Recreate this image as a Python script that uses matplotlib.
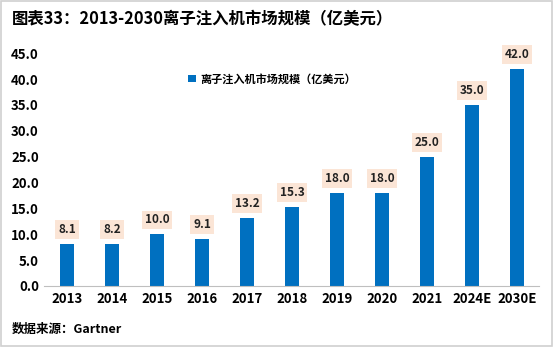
import matplotlib
matplotlib.use("Agg")
import matplotlib.pyplot as plt
from matplotlib.patches import Rectangle

plt.rcParams['font.family'] = ['Noto Sans CJK SC', 'DejaVu Sans']

years = ['2013', '2014', '2015', '2016', '2017', '2018', '2019', '2020', '2021', '2024E', '2030E']
market = [8.1, 8.2, 10.0, 9.1, 13.2, 15.3, 18.0, 18.0, 25.0, 35.0, 42.0]
yticks = [0, 5, 10, 15, 20, 25, 30, 35, 40, 45]

bar_color = '#0070C0'

fig = plt.figure(figsize=(5.54, 3.47), dpi=100)
ax = fig.add_axes([0.0803, 0.1758, 0.8935, 0.671])

x = list(range(len(years)))
ax.bar(x, market, width=0.33, color=bar_color, label='离子注入机市场规模（亿美元）', zorder=2)

for xi, v in zip(x, market):
    ax.text(xi, v + 1.5, f'{v:.1f}', ha='center', va='bottom', fontsize=8.5, fontweight='bold',
            color='#222222',
            bbox=dict(boxstyle='square,pad=0.25', facecolor='#FBE5D6', edgecolor='none'))

ax.set_xlim(-0.5, len(years) - 0.5)
ax.set_ylim(0, 45)
ax.set_yticks(yticks)
ax.set_yticklabels([f'{t:.1f}' for t in yticks], fontsize=9.5, fontweight='bold')
ax.set_xticks(x)
ax.set_xticklabels(years, fontsize=9.5, fontweight='bold')
ax.tick_params(axis='both', length=0, pad=4)
for s in ['top', 'right', 'left']:
    ax.spines[s].set_visible(False)
ax.spines['bottom'].set_color('#BFBFBF')

ax.legend(loc='upper left', bbox_to_anchor=(0.27, 0.96), frameon=False,
          prop=dict(weight='bold', size=8), handlelength=0.7, handleheight=0.7, handletextpad=0.4)

fig.text(0.022, 0.945, '图表33：2013-2030离子注入机市场规模（亿美元）', fontsize=11.8,
         fontweight='bold', ha='left', va='center')
fig.text(0.022, 0.05, '数据来源：Gartner', fontsize=9, fontweight='bold', ha='left', va='center')

fig.patches.append(Rectangle((0.002, 0.003), 0.995, 0.994, transform=fig.transFigure,
                             fill=False, edgecolor='#D0D0D0', linewidth=1.2))

fig.savefig('out.png', dpi=100)
